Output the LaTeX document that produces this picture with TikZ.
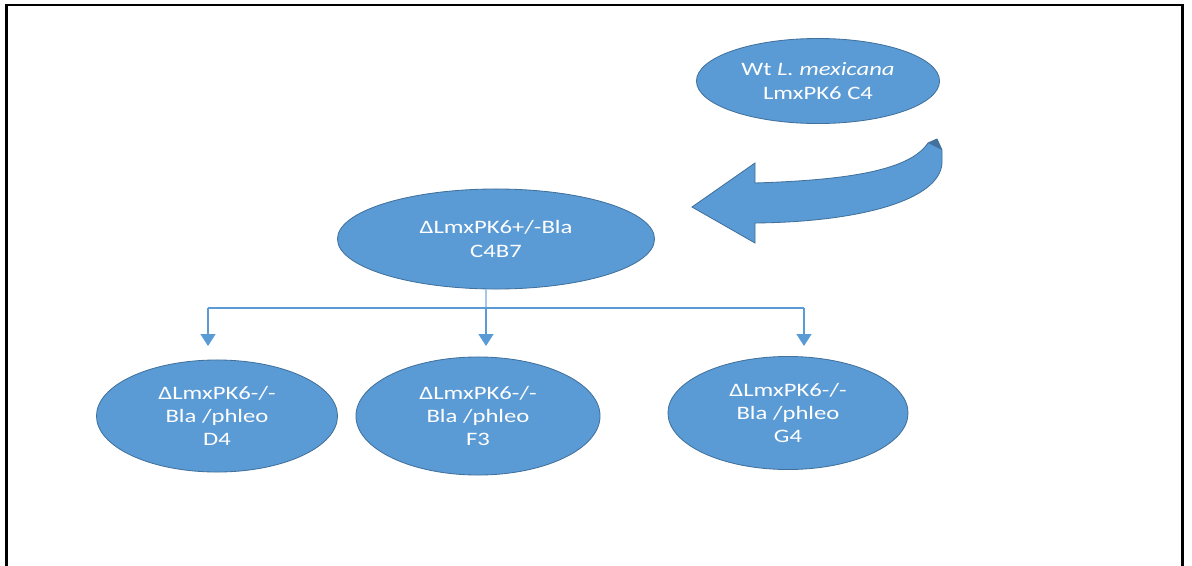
\documentclass[tikz,border=0pt]{standalone}
\usepackage{fontspec}
\setmainfont[FakeStretch=1.3]{Carlito}
\usetikzlibrary{shapes.geometric,arrows.meta}
\definecolor{cellblue}{HTML}{5B9BD5}
\definecolor{celledge}{HTML}{41719C}

\begin{document}
\begin{tikzpicture}[x=0.025cm, y=-0.025cm,
    cell/.style={ellipse, fill=cellblue, draw=celledge, line width=0.6pt, text=white, align=center, inner sep=0pt, font=\fontsize{13.5}{16.5}\selectfont},
    link/.style={draw=cellblue, line width=1pt}]
    \useasboundingbox (0,0) rectangle (1192,566);
    \fill[white] (0,0) rectangle (1192,566);
    \draw[line width=2.1pt] (6.5,566) -- (6.5,5) -- (1182.5,5) -- (1182.5,566);

    \node[cell, minimum width=6.075cm, minimum height=2.125cm] (wt) at (818,81) {Wt \textit{L. mexicana}\\LmxPK6 C4};
    \node[cell, minimum width=7.925cm, minimum height=2.5cm] (het) at (496,239) {ΔLmxPK6+/-Bla\\C4B7};
    \node[cell, minimum width=6.025cm, minimum height=2.8cm] (d4) at (217,416) {ΔLmxPK6-/-\\Bla /phleo\\D4};
    \node[cell, minimum width=6.1cm, minimum height=2.95cm] (f3) at (478,416) {ΔLmxPK6-/-\\Bla /phleo\\F3};
    \node[cell, minimum width=6.0cm, minimum height=2.825cm] (g4) at (788,413) {ΔLmxPK6-/-\\Bla /phleo\\G4};

    \draw[fill=cellblue, draw=celledge, line width=0.6pt] (692,207) -- (755,163) -- (755,183)
      .. controls (850,180) and (910,170) .. (928,143) -- (937,139) -- (942,150) -- (942,163)
      .. controls (940,200) and (860,222) .. (755,223) -- (755,243) -- cycle;
    \fill[celledge] (928,143) -- (937,139) -- (942,150) -- cycle;

    \coordinate (split) at (486,308);
    \coordinate (d4in) at (208,346);
    \coordinate (f3in) at (486,346);
    \coordinate (g4in) at (804,346);
    \draw[link, draw=cellblue!55, line width=0.8pt] (het.south -| split) -- (split);
    \draw[link] (d4in |- split) -- (g4in |- split);
    \foreach \c in {d4in,f3in,g4in}{
      \draw[link, -{Triangle[width=0.375cm, length=0.3cm]}] (\c |- split) -- (\c);
    }
	\end{tikzpicture}
\end{document}
